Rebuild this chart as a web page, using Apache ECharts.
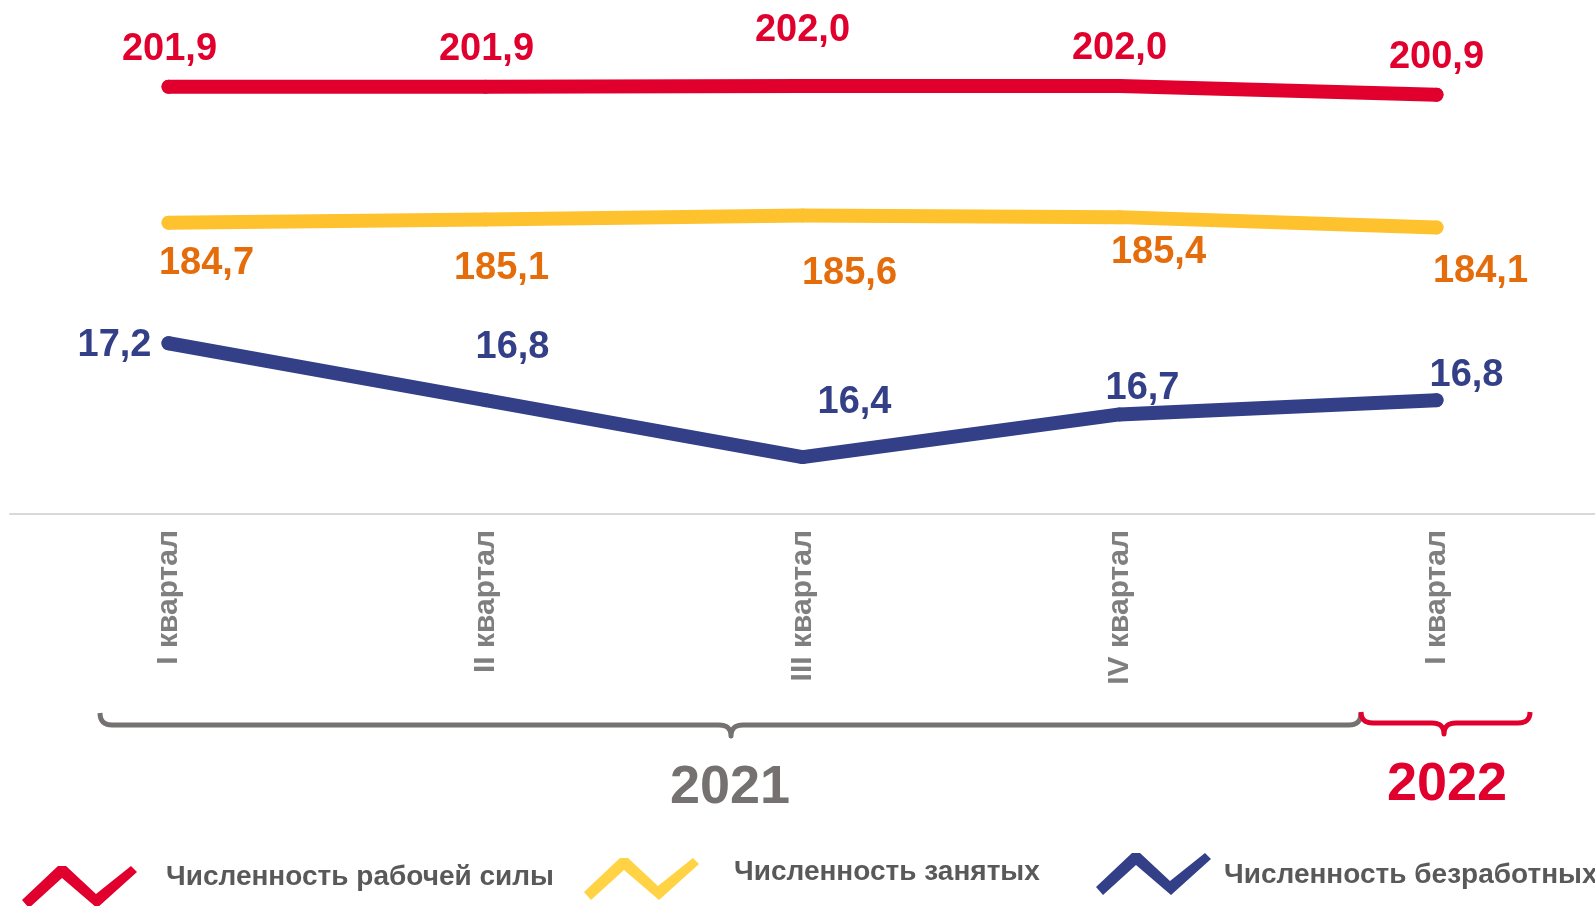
<!DOCTYPE html>
<html><head><meta charset="utf-8">
<script src="https://cdn.jsdelivr.net/npm/echarts@6/dist/echarts.min.js"></script>
<style>html,body{margin:0;padding:0;background:#fff}#c{width:1595px;height:906px}</style>
</head><body><div id="c"></div>
<script>
// ---- data ----
const categories = ['I квартал', 'II квартал', 'III квартал', 'IV квартал', 'I квартал'];
const laborForce = [201.9, 201.9, 202.0, 202.0, 200.9];
const employed = [184.7, 185.1, 185.6, 185.4, 184.1];
const unemployed = [17.2, 16.8, 16.4, 16.7, 16.8];
const seriesNames = ['Численность рабочей силы', 'Численность занятых', 'Численность безработных'];
const yearLabels = ['2021', '2022'];

// ---- label placement (style, not data) ----
const redOffsets = [[1, -37], [1, -37], [0, -55], [0, -37], [0, -37]];
const yellowOffsets = [[38, 41], [16, 49], [47, 58], [39, 35], [44, 44]];
const blueOffsets = [[-54, 2], [27, -53], [52, -55], [23, -26], [30, -25]];

const RED = '#E1002D', YELLOW = '#FFC22F', ORANGE = '#E46C0A', BLUE = '#333F87';
const FONT = "'Liberation Sans', Arial, sans-serif";
const fmt = p => p.value.toFixed(1).replace('.', ',');

function mk(vals, offs) {
  return vals.map((v, i) => ({ value: v, label: { offset: offs[i] } }));
}
function lineSeries(name, vals, offs, color, labelColor, yIdx) {
  return {
    name, type: 'line', yAxisIndex: yIdx,
    data: mk(vals, offs),
    symbol: 'circle', symbolSize: 14,
    itemStyle: { color },
    lineStyle: { color, width: 14, cap: 'round', join: 'round' },
    label: {
      show: true, position: 'inside', formatter: fmt,
      fontFamily: FONT, fontSize: 38, fontWeight: 'bold', color: labelColor
    },
    emphasis: { disabled: true },
    z: 3
  };
}

// legend: text only (icons drawn as zigzag decoration below)
function legendItem(name, left, top) {
  return {
    data: [name], left, top, padding: 0, itemGap: 0,
    itemWidth: 1, itemHeight: 30, icon: 'rect', itemStyle: { opacity: 0 }, selectedMode: false,
    textStyle: { fontFamily: FONT, fontSize: 28, fontWeight: 'bold', color: '#595959' }
  };
}
// zigzag legend icon shape (local box ~116x44)
const zigzag = [[0, 35], [36, 1], [44, 1], [74, 29], [109, 1], [115, 7], [75, 43], [40, 13], [7, 43]];
function zig(x, y, color) {
  return { type: 'polygon', shape: { points: zigzag.map(p => [p[0] + x, p[1] + y]) }, style: { fill: color } };
}

// curly brace decoration as sampled polyline
function bracePoints(x0, x1, xc, yEnd, yLine, yTip, r) {
  const pts = [];
  function quad(p0, p1, p2) {
    for (let t = 0; t <= 1.0001; t += 0.125) {
      const a = (1 - t) * (1 - t), b = 2 * (1 - t) * t, c = t * t;
      pts.push([a * p0[0] + b * p1[0] + c * p2[0], a * p0[1] + b * p1[1] + c * p2[1]]);
    }
  }
  quad([x0, yEnd], [x0, yLine], [x0 + r, yLine]);
  quad([xc - r, yLine], [xc, yLine], [xc, yTip]);
  quad([xc, yTip], [xc, yLine], [xc + r, yLine]);
  quad([x1 - r, yLine], [x1, yLine], [x1, yEnd]);
  return pts;
}

const chart = echarts.init(document.getElementById('c'), null, { renderer: 'canvas' });
chart.setOption({
  animation: false,
  backgroundColor: '#fff',
  grid: { left: 10, right: 0, top: 16, bottom: 392, containLabel: false },
  xAxis: {
    type: 'category', data: categories, boundaryGap: true,
    axisLine: { show: true, lineStyle: { color: '#D9D9D9', width: 2 } },
    axisTick: { show: false },
    axisLabel: { rotate: 90, margin: 16, fontFamily: FONT, fontSize: 30, fontWeight: 'bold', color: '#7F7F7F' },
    splitLine: { show: false }
  },
  yAxis: [
    { type: 'value', min: 147.82, max: 210.86, show: false, splitLine: { show: false } },
    { type: 'value', min: 16, max: 19.5, show: false, splitLine: { show: false } }
  ],
  legend: [
    legendItem(seriesNames[0], 160, 862),
    legendItem(seriesNames[1], 728, 857),
    legendItem(seriesNames[2], 1218, 860)
  ],
  series: [
    lineSeries(seriesNames[0], laborForce, redOffsets, RED, RED, 0),
    lineSeries(seriesNames[1], employed, yellowOffsets, YELLOW, ORANGE, 0),
    lineSeries(seriesNames[2], unemployed, blueOffsets, BLUE, BLUE, 1)
  ],
  graphic: [
    { type: 'polyline', shape: { points: bracePoints(100, 1361, 731, 713, 725, 736, 12) },
      style: { stroke: '#767171', lineWidth: 5, fill: null, lineJoin: 'round' } },
    { type: 'polyline', shape: { points: bracePoints(1361, 1530, 1444, 712, 723, 734, 12) },
      style: { stroke: RED, lineWidth: 5, fill: null, lineJoin: 'round' } },
    { type: 'text', x: 730, y: 788, style: { text: yearLabels[0], align: 'center', verticalAlign: 'middle',
      fontFamily: FONT, fontSize: 54, fontWeight: 'bold', fill: '#767171' } },
    { type: 'text', x: 1447, y: 785, style: { text: yearLabels[1], align: 'center', verticalAlign: 'middle',
      fontFamily: FONT, fontSize: 54, fontWeight: 'bold', fill: RED } },
    zig(22, 865, RED),
    zig(584, 857, '#FFD344'),
    zig(1096, 852, BLUE)
  ]
});
</script></body></html>
